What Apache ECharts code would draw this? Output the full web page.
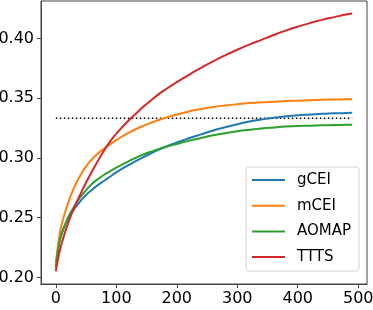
<!DOCTYPE html>
<html>
<head>
<meta charset="utf-8">
<script src="https://cdn.jsdelivr.net/npm/echarts@6/dist/echarts.min.js"></script>
<style>
html,body{margin:0;padding:0;background:#fff;}
#chart{width:373px;height:310px;}
</style>
</head>
<body>
<div id="chart"></div>
<script>
var xs      = [0, 5, 10, 20, 30, 40, 50, 60, 70, 80, 90, 100, 120, 140, 160, 180, 200, 220, 240, 260, 280, 300, 320, 340, 360, 380, 400, 420, 440, 460, 480, 490];
var gCEI    = [0.210, 0.228, 0.237, 0.249, 0.257, 0.2635, 0.269, 0.2735, 0.2775, 0.281, 0.2845, 0.288, 0.294, 0.2995, 0.3045, 0.3092, 0.313, 0.3165, 0.3198, 0.323, 0.3258, 0.3283, 0.3305, 0.3323, 0.3338, 0.3349, 0.3358, 0.3364, 0.3370, 0.3374, 0.3378, 0.3379];
var mCEI    = [0.210, 0.232, 0.245, 0.262, 0.275, 0.285, 0.293, 0.299, 0.304, 0.308, 0.3115, 0.315, 0.321, 0.326, 0.330, 0.3335, 0.3365, 0.339, 0.341, 0.3427, 0.344, 0.3451, 0.346, 0.3467, 0.3472, 0.3477, 0.348, 0.3484, 0.3488, 0.349, 0.3492, 0.3493];
var AOMAP   = [0.208, 0.227, 0.237, 0.250, 0.259, 0.267, 0.273, 0.2785, 0.2825, 0.286, 0.289, 0.292, 0.2972, 0.302, 0.3058, 0.309, 0.3118, 0.3145, 0.3168, 0.319, 0.3208, 0.3224, 0.3237, 0.3248, 0.3256, 0.3263, 0.3268, 0.3271, 0.3274, 0.3276, 0.3278, 0.3279];
var TTTS    = [0.205, 0.219, 0.229, 0.245, 0.258, 0.269, 0.2795, 0.289, 0.298, 0.3065, 0.314, 0.3205, 0.3312, 0.3408, 0.3495, 0.357, 0.3635, 0.3697, 0.3755, 0.381, 0.386, 0.3907, 0.395, 0.399, 0.403, 0.4067, 0.410, 0.413, 0.4157, 0.418, 0.4202, 0.421];
var baselineX = [0, 490];
var baselineY = [0.3333, 0.3333];
var xTicks  = [0, 100, 200, 300, 400, 500];
var yTicks  = [0.20, 0.25, 0.30, 0.35, 0.40];

function pairs(x, y){ return x.map(function(v,i){ return [v, y[i]]; }); }

var font = 'DejaVu Sans';
var chart = echarts.init(document.getElementById('chart'), null, {renderer:'canvas'});
var names = ['gCEI','mCEI','AOMAP','TTTS'];
var colors = ['#1f77b4','#ff7f0e','#2ca02c','#d62728'];
var vals = [gCEI, mCEI, AOMAP, TTTS];

var series = names.map(function(n,i){
  return {
    name: n, type: 'line', data: pairs(xs, vals[i]),
    smooth: 0.5, symbol: 'none', showSymbol: false,
    lineStyle: {color: colors[i], width: 2},
    itemStyle: {color: colors[i]},
    z: 3, animation: false
  };
});
series.push({
  name: 'baseline', type: 'line', data: pairs(baselineX, baselineY),
  symbol: 'none', showSymbol: false,
  lineStyle: {color: '#000', width: 1.5, type: [1.5, 2.5]},
  z: 2, animation: false
});

chart.setOption({
  animation: false,
  backgroundColor: '#fff',
  grid: {left: 41, right: 6, top: 1, bottom: 26, show: true, borderColor: '#444', borderWidth: 1, containLabel: false, outerBoundsMode: 'none'},
  xAxis: {
    type: 'value', min: -24.5, max: 514.5,
    axisLine: {show: true, onZero: false, lineStyle: {color: '#444', width: 1}},
    axisTick: {show: true, length: 4, customValues: xTicks, lineStyle: {color: '#444'}},
    axisLabel: {customValues: xTicks, margin: 7, color: '#000', fontSize: 16, fontFamily: font, formatter: function(v){return String(v);}},
    splitLine: {show: false}
  },
  yAxis: {
    type: 'value', min: 0.1945, max: 0.4315,
    axisLine: {show: true, onZero: false, lineStyle: {color: '#444', width: 1}},
    axisTick: {show: true, length: 4, customValues: yTicks, lineStyle: {color: '#444'}},
    axisLabel: {customValues: yTicks, margin: 7, color: '#000', fontSize: 16, fontFamily: font, formatter: function(v){return v.toFixed(2);}},
    splitLine: {show: false}
  },
  legend: {
    data: names.map(function(n){ return {name: n, icon: 'rect'}; }),
    orient: 'vertical', left: 246, top: 167,
    itemWidth: 33, itemHeight: 2, itemGap: 9.7,
    padding: [5, 8, 6, 6],
    backgroundColor: '#fff', borderColor: '#d6d6d6', borderWidth: 1, borderRadius: 3,
    textStyle: {color: '#000', fontSize: 15, lineHeight: 16, fontFamily: font, padding: [0, 0, 0, 7]}
  },
  series: series
});
</script>
</body>
</html>
